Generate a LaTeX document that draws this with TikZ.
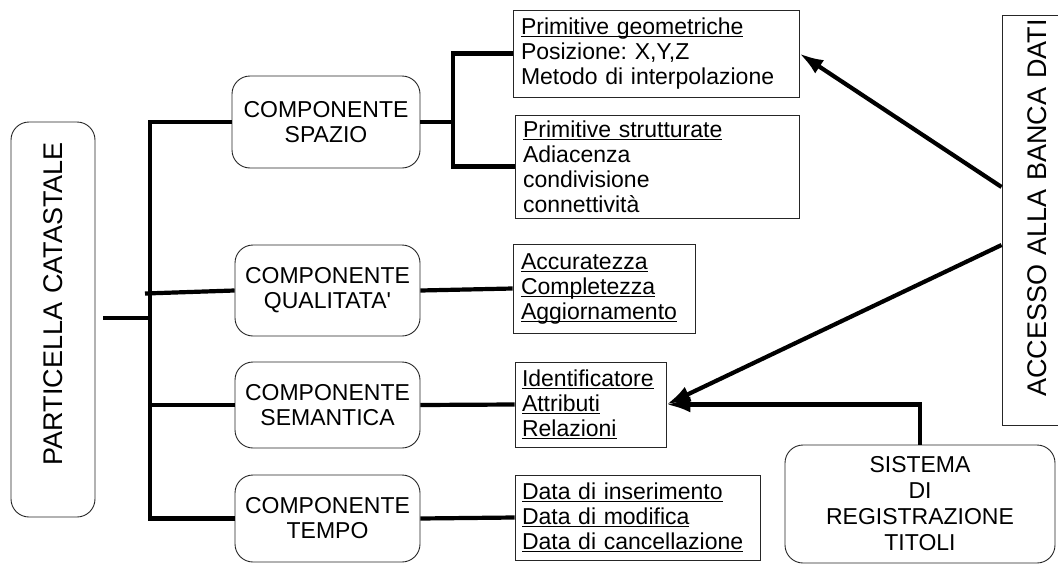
\documentclass[tikz,border=0pt]{standalone}
\usepackage{fontspec}
\setmainfont{Liberation Sans}
\usetikzlibrary{arrows.meta}
\frenchspacing

\newcommand\ulin[1]{\leavevmode\setbox0\hbox{#1}\rlap{\rule[-3pt]{\wd0}{1.3pt}}\box0}

\tikzset{
  comp/.style={draw=black!85,line width=0.9pt,rounded corners=18pt,align=center,inner sep=0pt},
  info/.style={draw=black!85,line width=0.9pt,align=left,inner xsep=8pt,inner ysep=0pt},
  bigtext/.style={font=\fontsize{27}{30}\selectfont},
  conn/.style={line width=4.2pt},
  arr/.style={line width=4.2pt,-{Latex[length=24pt,width=16pt]}},
}

\begin{document}
\begin{tikzpicture}[x=1pt,y=-1pt,font=\fontsize{23}{25}\selectfont]
    %\draw[step=50,lightgray,ultra thin] (0,0) grid (1058,565);
    \useasboundingbox (0,0) rectangle (1058,565);
    \node[comp,bigtext,rotate=90,minimum width=395,minimum height=84,text width=355,inner xsep=20pt,align=right] (part) at (53,319.5) {PARTICELLA CATASTALE};
    \node[comp,minimum width=188,minimum height=92] (spazio) at (326,122) {COMPONENTE\\SPAZIO};
    \node[comp,minimum width=185,minimum height=91] (qual) at (327.5,290.5) {COMPONENTE\\QUALITATA\textquotesingle};
    \node[comp,minimum width=185,minimum height=86] (sem) at (327.5,405) {COMPONENTE\\SEMANTICA};
    \node[comp,minimum width=185,minimum height=87] (tempo) at (327.5,518.5) {COMPONENTE\\TEMPO};
    \node[info,minimum width=286,minimum height=87,text width=270] (geo) at (656,53.5) {\ulin{Primitive geometriche}\\Posizione: X,Y,Z\\Metodo di interpolazione};
    \node[info,minimum width=284,minimum height=103,text width=268] (strut) at (657,166.5) {\ulin{Primitive strutturate}\\Adiacenza\\condivisione\\connettività};
    \node[info,minimum width=182,minimum height=89,text width=166] (acc) at (604,288.5) {\ulin{Accuratezza}\\\ulin{Completezza}\\\ulin{Aggiornamento}};
    \node[info,minimum width=151,minimum height=85,text width=137,inner xsep=7pt] (ident) at (590.5,404.5) {\ulin{Identificatore}\\\ulin{Attributi}\\\ulin{Relazioni}};
    \node[info,minimum width=245,minimum height=85,text width=231,inner xsep=7pt] (data) at (637.5,517.5) {\ulin{Data di inserimento}\\\ulin{Data di modifica}\\\ulin{Data di cancellazione}};
    \node[info,bigtext,rotate=90,minimum width=410,minimum height=70,text width=402,inner xsep=4pt,align=right] (access) at (1037,220) {ACCESSO ALLA BANCA DATI};
    \node[comp,minimum width=270,minimum height=118,font=\fontsize{23}{26}\selectfont] (sistema) at (920,504) {SISTEMA\\DI\\REGISTRAZIONE\\TITOLI};

    \coordinate (stem) at (103,318);
    \coordinate (bus) at (150,0);
    \coordinate (fork) at (453,0);
    \draw[conn] (stem) -- (stem -| bus);
    \draw[conn] (spazio.west) -- (bus |- spazio.west) -- (bus |- tempo.west) -- (tempo.west);
    \draw[conn] (bus |- qual.west) ++(-5,3) -- (qual.west);
    \draw[conn] (bus |- sem.west) -- (sem.west);
    \draw[conn] (spazio.east) -- (fork |- spazio.east);
    \draw[conn] (geo.west) -- (fork |- geo.west) -- (fork |- strut.west) -- (strut.west);
    \draw[conn] (qual.east) -- (acc.west);
    \draw[conn] (sem.east) -- (ident.west);
    \draw[conn] (tempo.east) -- (data.west);
    \draw[arr] (access.north) ++(0,-33) -- (geo.east);
    \draw[arr] (access.north) ++(0,25) -- (ident.east);
    \draw[arr] (sistema.north) |- (ident.east);
\end{tikzpicture}
\end{document}
